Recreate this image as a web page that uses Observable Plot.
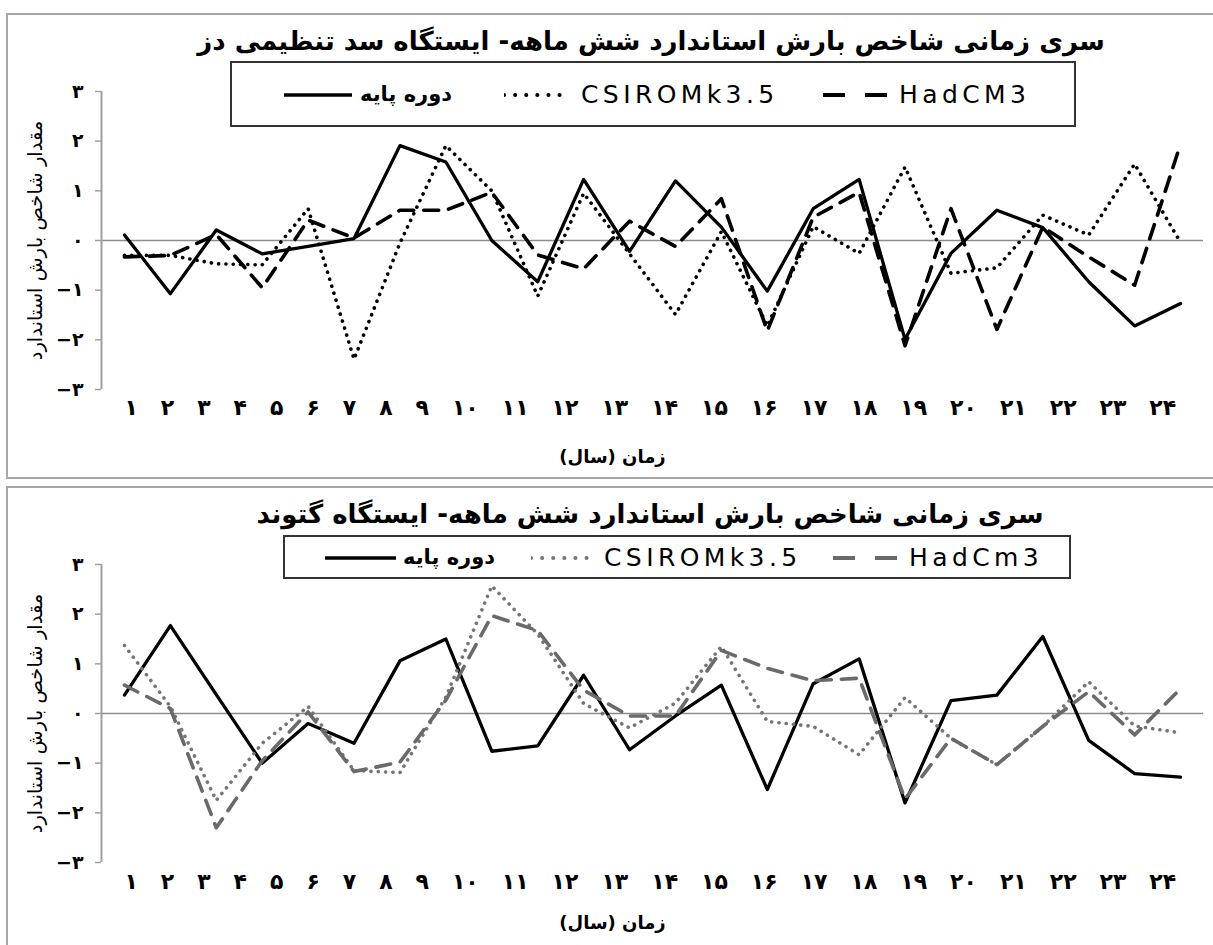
<!DOCTYPE html>
<html>
<head>
<meta charset="utf-8">
<script src="https://cdn.jsdelivr.net/npm/d3@7"></script>
<script src="https://cdn.jsdelivr.net/npm/@observablehq/plot@0.6"></script>
<style>
  body { margin: 0; background: #fff; font-family: "DejaVu Sans", sans-serif; }
  #page { position: relative; width: 1213px; height: 945px; overflow: hidden; background: #fff; }
  .panel { position: absolute; left: 6px; width: 1230px; border: 2px solid #a8a8a8; box-sizing: border-box; }
  .title { position: absolute; left: 0; width: 1300px; text-align: center; font-weight: bold; font-size: 26px; line-height: 30px; direction: rtl; white-space: nowrap; color: #000; }
  .legend { position: absolute; border: 2px solid #333; box-sizing: border-box; background: #fff; }
  .legend .lbl { position: absolute; top: 50%; transform: translateY(-50%); white-space: nowrap; color: #000; }
  .legend .lat { font-family: "DejaVu Sans", sans-serif; font-size: 25px; letter-spacing: 4.4px; }
  .legend .fa { font-family: "DejaVu Sans", sans-serif; font-size: 21px; font-weight: bold; direction: rtl; }
  .plotwrap { position: absolute; left: 0; }
</style>
</head>
<body>
<div id="page">
  <div class="panel" style="top:13px;height:466px"></div>
  <div class="panel" style="top:486px;height:480px"></div>
</div>
<script>
// ---------- data ----------
const years = [1,2,3,4,5,6,7,8,9,10,11,12,13,14,15,16,17,18,19,20,21,22,23,24];
const xTickLabels = ["۱","۲","۳","۴","۵","۶","۷","۸","۹","۱۰","۱۱","۱۲","۱۳","۱۴","۱۵","۱۶","۱۷","۱۸","۱۹","۲۰","۲۱","۲۲","۲۳","۲۴"];
const yTicks = [-3,-2,-1,0,1,2,3];
const yTickLabels = ["−۳","−۲","−۱","۰","۱","۲","۳"];

// Station 1: سد تنظیمی دز
const dezTitle = "سری زمانی شاخص بارش استاندارد شش ماهه- ایستگاه سد تنظیمی دز";
const dezSeriesNames = ["دوره پایه", "CSIROMk3.5", "HadCM3"];
const dezBase  = [0.11,-1.07,0.21,-0.27,-0.12,0.04,1.91,1.58,0.00,-0.83,1.23,-0.22,1.20,0.27,-1.02,0.64,1.23,-1.99,-0.26,0.61,0.26,-0.83,-1.72,-1.27];
const dezCsiro = [-0.30,-0.30,-0.47,-0.49,0.64,-2.39,-0.05,1.91,1.00,-1.12,0.95,-0.27,-1.49,0.18,-1.72,0.28,-0.26,1.48,-0.66,-0.55,0.51,0.11,1.54,-0.04];
const dezHad   = [-0.33,-0.30,0.12,-0.95,0.41,0.05,0.61,0.61,0.97,-0.29,-0.57,0.39,-0.12,0.84,-1.82,0.47,0.97,-2.12,0.64,-1.79,0.27,-0.33,-0.90,1.94];

// Station 2: گتوند
const gotTitle = "سری زمانی شاخص بارش استاندارد شش ماهه- ایستگاه گتوند";
const gotSeriesNames = ["دوره پایه", "CSIROMk3.5", "HadCm3"];
const gotBase  = [0.37,1.77,0.38,-1.00,-0.20,-0.60,1.06,1.50,-0.76,-0.65,0.77,-0.73,-0.05,0.57,-1.53,0.60,1.10,-1.80,0.26,0.37,1.55,-0.54,-1.21,-1.28];
const gotCsiro = [1.37,0.14,-1.75,-0.60,0.14,-1.15,-1.19,0.33,2.57,1.60,0.20,-0.29,0.21,1.35,-0.16,-0.26,-0.83,0.32,-0.50,-1.03,-0.26,0.64,-0.25,-0.39];
const gotHad   = [0.57,0.10,-2.30,-0.95,0.03,-1.17,-0.98,0.27,1.97,1.67,0.47,-0.05,-0.05,1.27,0.91,0.66,0.71,-1.72,-0.50,-1.03,-0.26,0.44,-0.43,0.50];

const yLabel = "مقدار شاخص بارش استاندارد";
const xLabel = "زمان (سال)\u200F";

// ---------- helpers ----------
const page = document.getElementById("page");
const rows = vals => years.map((yr, i) => ({year: yr, value: vals[i]}));
const xDomain = [0.5, 24.5];
const xTickString = xTickLabels.join(" ");

function makePanel(cfg) {
  // title
  const t = document.createElement("div");
  t.className = "title";
  t.style.left = (cfg.titleCx - 650) + "px";
  t.style.top = cfg.titleTop + "px";
  t.textContent = cfg.title;
  page.appendChild(t);

  // plot
  const s = cfg.styles;
  const plot = Plot.plot({
    width: 1213,
    height: cfg.height,
    marginLeft: 101,
    marginRight: 10,
    marginTop: cfg.mTop,
    marginBottom: cfg.mBottom,
    style: {background: "transparent", fontFamily: "DejaVu Sans", color: "#000"},
    x: {domain: xDomain, axis: null},
    y: {domain: [-3, 3], axis: null},
    marks: [
      Plot.ruleY([0], {stroke: "#8c8c8c", strokeWidth: 1.5}),
      Plot.ruleX([xDomain[0]], {y1: -3, y2: 3, stroke: "#a0a0a0", strokeWidth: 2}),
      Plot.axisY({ticks: yTicks, tickFormat: d => yTickLabels[yTicks.indexOf(d)], tickSize: 6, tickPadding: 12,
                  stroke: "#a0a0a0", strokeWidth: 1.5, fontSize: 19, fontWeight: "bold", label: null}),
      Plot.line(rows(cfg.base), {x: "year", y: "value", ...s.base}),
      Plot.line(rows(cfg.csiro), {x: "year", y: "value", ...s.csiro}),
      Plot.line(rows(cfg.had), {x: "year", y: "value", ...s.had}),
      Plot.text([xTickString], {x: () => years[0], frameAnchor: "bottom", text: d => d,
                  textAnchor: "start", dy: cfg.tickDy, fontSize: 22, fontWeight: "bold"}),
      Plot.text([xLabel], {frameAnchor: "bottom", text: d => d, textAnchor: "middle", dx: -40, dy: cfg.xLabelDy, fontSize: 18, fontWeight: "bold"}),
      Plot.text([yLabel], {frameAnchor: "left", text: d => d, textAnchor: "middle", rotate: -90, dx: -66, fontSize: 19.5})
    ]
  });
  // x tick labels are typeset as one spaced run, as in the reference
  d3.select(plot).selectAll("text").filter(function() { return this.textContent === xTickString; })
    .style("word-spacing", "15.3px");
  const wrap = document.createElement("div");
  wrap.className = "plotwrap";
  wrap.style.top = cfg.svgTop + "px";
  wrap.appendChild(plot);
  page.appendChild(wrap);

  // legend
  const b = cfg.legend;
  const lg = document.createElement("div");
  lg.className = "legend";
  Object.assign(lg.style, {left: b.left + "px", top: b.top + "px", width: b.width + "px", height: b.height + "px"});
  const keys = ["base", "csiro", "had"];
  keys.forEach((k, i) => {
    const e = b.items[i];
    const st = s[k];
    const svg = d3.create("svg").attr("width", e.sw).attr("height", b.height - 4)
      .style("position", "absolute").style("left", e.sx + "px").style("top", "0px");
    svg.append("line").attr("x1", 0).attr("x2", e.sw).attr("y1", (b.height - 4) / 2 + 1).attr("y2", (b.height - 4) / 2 + 1)
      .attr("stroke", st.stroke).attr("stroke-width", k === "base" ? 3.4 : 4)
      .attr("stroke-dasharray", k === "base" ? null : (k === "csiro" ? "0.1 11" : "22 20"))
      .attr("stroke-linecap", k === "csiro" ? "round" : "butt");
    lg.appendChild(svg.node());
    const sp = document.createElement("span");
    sp.className = "lbl " + (i === 0 ? "fa" : "lat");
    sp.style.left = e.tx + "px";
    sp.textContent = cfg.names[i];
    lg.appendChild(sp);
  });
  page.appendChild(lg);
}

const topStyles = {
  base:  {stroke: "#000", strokeWidth: 3.3},
  csiro: {stroke: "#000", strokeWidth: 3.6, strokeDasharray: "0.1 7.2", strokeLinecap: "round"},
  had:   {stroke: "#000", strokeWidth: 3.6, strokeDasharray: "15 10"}
};
const botStyles = {
  base:  {stroke: "#000", strokeWidth: 3.3},
  csiro: {stroke: "#767676", strokeWidth: 3.6, strokeDasharray: "0.1 7.2", strokeLinecap: "round"},
  had:   {stroke: "#6a6a6a", strokeWidth: 3.6, strokeDasharray: "15 10"}
};

makePanel({
  title: dezTitle, names: dezSeriesNames, base: dezBase, csiro: dezCsiro, had: dezHad, styles: topStyles,
  titleCx: 651, titleTop: 26,
  svgTop: 0, height: 478, mTop: 91, mBottom: 89, tickDy: 25, xLabelDy: 73,
  legend: {left: 230, top: 61, width: 846, height: 66,
    items: [{sx: 52, sw: 68, tx: 128}, {sx: 272, sw: 66, tx: 349}, {sx: 591, sw: 66, tx: 667}]}
});
makePanel({
  title: gotTitle, names: gotSeriesNames, base: gotBase, csiro: gotCsiro, had: gotHad, styles: botStyles,
  titleCx: 650, titleTop: 499,
  svgTop: 474, height: 471, mTop: 90, mBottom: 83, tickDy: 26, xLabelDy: 66,
  legend: {left: 283, top: 535, width: 788, height: 44,
    items: [{sx: 40, sw: 71, tx: 118}, {sx: 246, sw: 64, tx: 319}, {sx: 548, sw: 66, tx: 624}]}
});
</script>
</body>
</html>
